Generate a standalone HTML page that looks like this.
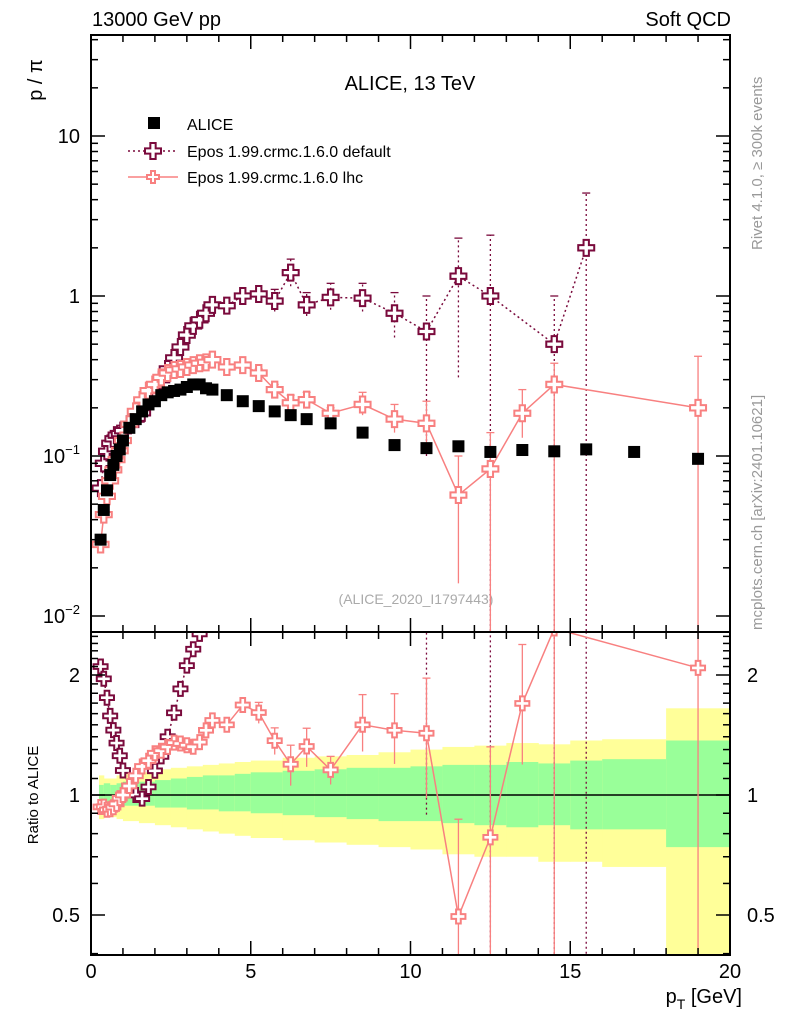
<!DOCTYPE html>
<html><head><meta charset="utf-8"><style>
html,body{margin:0;background:#fff;overflow:hidden;width:786px;height:1024px;}
svg{display:block;}
svg text{font-family:"Liberation Sans",sans-serif;}
</style></head><body>
<svg id="c" width="786" height="1024" xmlns="http://www.w3.org/2000/svg">
<text x="92" y="26" font-size="20">13000 GeV pp</text>
<text x="731" y="26" font-size="20" text-anchor="end">Soft QCD</text>
<text x="410" y="90" font-size="20" text-anchor="middle">ALICE, 13 TeV</text>
<text transform="translate(42,80) rotate(-90)" font-size="20" text-anchor="middle">p / π</text>
<text transform="translate(38,795) rotate(-90)" font-size="15" text-anchor="middle">Ratio to ALICE</text>
<text x="742" y="1003" font-size="20" text-anchor="end">p<tspan font-size="14" dy="6">T</tspan><tspan dy="-6"> [GeV]</tspan></text>
<text transform="translate(762,250) rotate(-90)" font-size="15" fill="#999">Rivet 4.1.0, ≥ 300k events</text>
<text transform="translate(762,630) rotate(-90)" font-size="15" fill="#999">mcplots.cern.ch [arXiv:2401.10621]</text>
<text x="416" y="604" font-size="14" fill="#aaa" text-anchor="middle">(ALICE_2020_I1797443)</text>
<g id="main"></g>
<g id="ratio"></g>
<g id="axes"></g>
<g id="legend"></g>
</svg>
<script>
const xs=[0.3,0.4,0.5,0.6,0.7,0.8,0.9,1.0,1.2,1.4,1.6,1.8,2.0,2.2,2.4,2.6,2.8,3.0,3.2,3.4,3.6,3.8,4.25,4.75,5.25,5.75,6.25,6.75,7.5,8.5,9.5,10.5,11.5,12.5,13.5,14.5,15.5,17,19];
const alice=[0.03,0.046,0.061,0.076,0.088,0.1,0.11,0.125,0.15,0.17,0.19,0.21,0.22,0.24,0.25,0.255,0.26,0.27,0.28,0.28,0.265,0.26,0.24,0.22,0.205,0.19,0.18,0.17,0.16,0.14,0.117,0.112,0.115,0.106,0.109,0.107,0.11,0.106,0.096];
const eposDef=[0.063,0.09,0.107,0.12,0.128,0.135,0.138,0.144,0.158,0.17,0.186,0.22,0.253,0.3,0.35,0.41,0.48,0.57,0.65,0.71,0.78,0.88,0.87,1.0,1.03,0.93,1.4,0.88,0.98,0.97,0.78,0.6,1.33,1.0,null,0.5,2.0,null,null];
const eposDefLo=[null,null,null,null,null,null,null,null,null,null,null,null,null,null,null,null,null,null,null,null,null,null,null,null,null,0.8,1.15,0.75,0.82,0.8,0.55,0.1,0.31,0.001,null,0.001,0.001,null,null];
const eposDefHi=[null,null,null,null,null,null,null,null,null,null,null,null,null,null,null,null,null,null,null,null,null,null,null,null,null,1.1,1.7,1.05,1.2,1.2,1.05,1.0,2.3,2.4,null,1.0,4.4,null,null];
const eposLhc=[0.028,0.043,0.056,0.07,0.082,0.095,0.108,0.125,0.158,0.19,0.224,0.256,0.28,0.31,0.33,0.345,0.35,0.36,0.37,0.38,0.385,0.4,0.36,0.37,0.33,0.26,0.215,0.225,0.185,0.21,0.17,0.16,0.057,0.083,0.185,0.28,null,null,0.2];
const eposLhcLo=[null,null,null,null,null,null,null,null,null,null,null,null,null,null,null,null,null,null,null,null,null,null,null,null,0.31,0.24,0.19,0.2,0.17,0.18,0.14,0.11,0.016,0.001,0.13,0.001,null,null,0.001];
const eposLhcHi=[null,null,null,null,null,null,null,null,null,null,null,null,null,null,null,null,null,null,null,null,null,null,null,null,0.35,0.28,0.24,0.25,0.2,0.25,0.21,0.22,0.1,0.14,0.26,0.38,null,null,0.42];
const bandEdges=[0.25,0.4,0.6,0.8,1,1.5,2,2.5,3,3.5,4,4.5,5,6,7,8,9,10,11,12,13,14,15,16,18,20];
const greenUp=[1.06,1.07,1.06,1.07,1.08,1.08,1.09,1.1,1.11,1.12,1.12,1.13,1.14,1.15,1.16,1.17,1.17,1.18,1.19,1.19,1.21,1.2,1.22,1.23,1.37];
const greenDn=[0.95,0.95,0.95,0.95,0.94,0.94,0.93,0.93,0.92,0.92,0.91,0.91,0.9,0.89,0.88,0.87,0.86,0.86,0.85,0.84,0.83,0.84,0.82,0.82,0.74];
const yelUp=[1.12,1.1,1.1,1.12,1.13,1.14,1.16,1.17,1.18,1.19,1.2,1.21,1.22,1.24,1.25,1.26,1.28,1.3,1.32,1.33,1.35,1.34,1.37,1.38,1.65];
const yelDn=[0.87,0.88,0.88,0.87,0.86,0.85,0.84,0.83,0.82,0.81,0.8,0.79,0.78,0.77,0.76,0.75,0.74,0.73,0.71,0.7,0.7,0.68,0.68,0.66,0.35];

const NS="http://www.w3.org/2000/svg";
const L=91,R=730,T=35,MB=632,RB=955;
const X=v=>L+(R-L)*v/20;
const Y=v=>456-160*(Math.log10(v)+1);
const YR=r=>795-120*Math.log2(r);
function mk(p,tag,a){const e=document.createElementNS(NS,tag);for(const k in a)e.setAttribute(k,a[k]);p.appendChild(e);return e;}
const svg=document.getElementById('c');
const defs=mk(svg,'defs',{});
const c1=mk(defs,'clipPath',{id:'cm'});mk(c1,'rect',{x:L,y:T,width:R-L,height:MB-T});
const c2=mk(defs,'clipPath',{id:'cr'});mk(c2,'rect',{x:L,y:MB,width:R-L,height:RB-MB});
const main=document.getElementById('main');main.setAttribute('clip-path','url(#cm)');
const ratio=document.getElementById('ratio');ratio.setAttribute('clip-path','url(#cr)');

for(let i=0;i<greenUp.length;i++){
 const x0=X(bandEdges[i]),x1=X(bandEdges[i+1]);
 const y=mk(ratio,'rect',{x:x0,y:YR(yelUp[i]),width:x1-x0+0.5,height:YR(yelDn[i])-YR(yelUp[i]),fill:'#ffff99'});
 
 
 const g=mk(ratio,'rect',{x:x0,y:YR(greenUp[i]),width:x1-x0+0.5,height:YR(greenDn[i])-YR(greenUp[i]),fill:'#99ff99'});
 
 
}
mk(ratio,'line',{x1:L,x2:R,y1:YR(1),y2:YR(1),stroke:'#000','stroke-width':1.5});

function cross(p,x,y,col,s){
 const a=s/3;
 const d=`M${x-a},${y-s}h${2*a}v${s-a}h${s-a}v${2*a}h${-(s-a)}v${s-a}h${-2*a}v${-(s-a)}h${-(s-a)}v${-2*a}h${s-a}z`;
 return mk(p,'path',{d:d,fill:'#fff',stroke:col,'stroke-width':2});
}
function series(p,vals,lo,hi,col,dash,yf,isRatio,name){
 let pts=[];
 const seg=mk(p,'g',{});
 vals.forEach((v,i)=>{if(v==null)return;const r=isRatio?v/alice[i]:v;pts.push([X(xs[i]),yf(r)]);
  if(lo[i]!=null){const l=isRatio?lo[i]/alice[i]:lo[i],h=isRatio?hi[i]/alice[i]:hi[i];
   const ly=yf(Math.max(l,1e-4)),hy=yf(h);
   mk(seg,'line',{x1:X(xs[i]),x2:X(xs[i]),y1:ly,y2:hy,stroke:col,'stroke-width':1.3,'stroke-dasharray':dash});
   mk(seg,'line',{x1:X(xs[i])-4,x2:X(xs[i])+4,y1:hy,y2:hy,stroke:col,'stroke-width':1.3});
  }});
 mk(p,'polyline',{points:pts.map(q=>q.join(',')).join(' '),fill:'none',stroke:col,'stroke-width':1.5,'stroke-dasharray':dash});
 const sz=isRatio?7:8;
 pts.forEach(q=>{const m=cross(p,q[0],q[1],col,sz);});
}
series(main,eposDef,eposDefLo,eposDefHi,'#7a0a3c','2,3',Y,false,'epos-default');
series(main,eposLhc,eposLhcLo,eposLhcHi,'#f88080','',Y,false,'epos-lhc');
alice.forEach((v,i)=>{const r=mk(main,'rect',{x:X(xs[i])-6,y:Y(v)-6,width:12,height:12,fill:'#000'});
 
 });
series(ratio,eposDef,eposDefLo,eposDefHi,'#7a0a3c','2,3',YR,true,'epos-default-ratio');
series(ratio,eposLhc,eposLhcLo,eposLhcHi,'#f88080','',YR,true,'epos-lhc-ratio');

const ax=document.getElementById('axes');
mk(ax,'rect',{x:L,y:T,width:R-L,height:RB-T,fill:'none',stroke:'#000','stroke-width':2});
mk(ax,'line',{x1:L,x2:R,y1:MB,y2:MB,stroke:'#000','stroke-width':2});
const xt=[0,5,10,15,20];
for(let v=0;v<=20;v++){const big=v%5==0,h=big?14:7;
 [[T,1],[MB,1],[MB,-1],[RB,-1]].forEach(([y,s])=>mk(ax,'line',{x1:X(v),x2:X(v),y1:y,y2:y+s*h,stroke:'#000','stroke-width':1.5}));}
xt.forEach(v=>{const t=mk(ax,'text',{x:X(v),y:978,'font-size':20,'text-anchor':'middle'});t.textContent=v;});
const ylab=[[0.01,'10<tspan font-size="13" dy="-9">−2</tspan>'],[0.1,'10<tspan font-size="13" dy="-9">−1</tspan>'],[1,'1'],[10,'10']];
for(let d=-2;d<=1;d++)for(let m=1;m<10;m++){const v=m*Math.pow(10,d),y=Y(v);if(y<T||y>MB)continue;const h=m==1?14:7;
 mk(ax,'line',{x1:L,x2:L+h,y1:y,y2:y,stroke:'#000','stroke-width':1.5});mk(ax,'line',{x1:R,x2:R-h,y1:y,y2:y,stroke:'#000','stroke-width':1.5});}
ylab.forEach(([v,s])=>{const t=mk(ax,'text',{x:80,y:Y(v)+7,'font-size':20,'text-anchor':'end'});t.innerHTML=s;});
for(let r=0.4;r<=2.55;r+=0.1){const y=YR(r);const big=Math.abs(r-1)<1e-6||Math.abs(r-2)<1e-6||Math.abs(r-0.5)<1e-6;const h=big?14:7;
 mk(ax,'line',{x1:L,x2:L+h,y1:y,y2:y,stroke:'#000','stroke-width':1.5});mk(ax,'line',{x1:R,x2:R-h,y1:y,y2:y,stroke:'#000','stroke-width':1.5});}
[[2,'2'],[1,'1'],[0.5,'0.5']].forEach(([v,s])=>{const t=mk(ax,'text',{x:80,y:YR(v)+7,'font-size':20,'text-anchor':'end'});t.textContent=s;
 const t2=mk(ax,'text',{x:747,y:YR(v)+7,'font-size':20});t2.textContent=s;});

const lg=document.getElementById('legend');
const e1=mk(lg,'rect',{x:148,y:117,width:12,height:12,fill:'#000'});


const t1=mk(lg,'text',{x:187,y:130,'font-size':16});t1.textContent='ALICE';
mk(lg,'line',{x1:128,x2:178,y1:151,y2:151,stroke:'#7a0a3c','stroke-width':1.5,'stroke-dasharray':'2,3'});
cross(lg,153,151,'#7a0a3c',8);
const t2=mk(lg,'text',{x:187,y:157,'font-size':16});t2.textContent='Epos 1.99.crmc.1.6.0 default';
mk(lg,'line',{x1:128,x2:178,y1:177,y2:177,stroke:'#f88080','stroke-width':1.5});
cross(lg,153,177,'#f88080',6);
const t3=mk(lg,'text',{x:187,y:183,'font-size':16});t3.textContent='Epos 1.99.crmc.1.6.0 lhc';
</script>
</body></html>
